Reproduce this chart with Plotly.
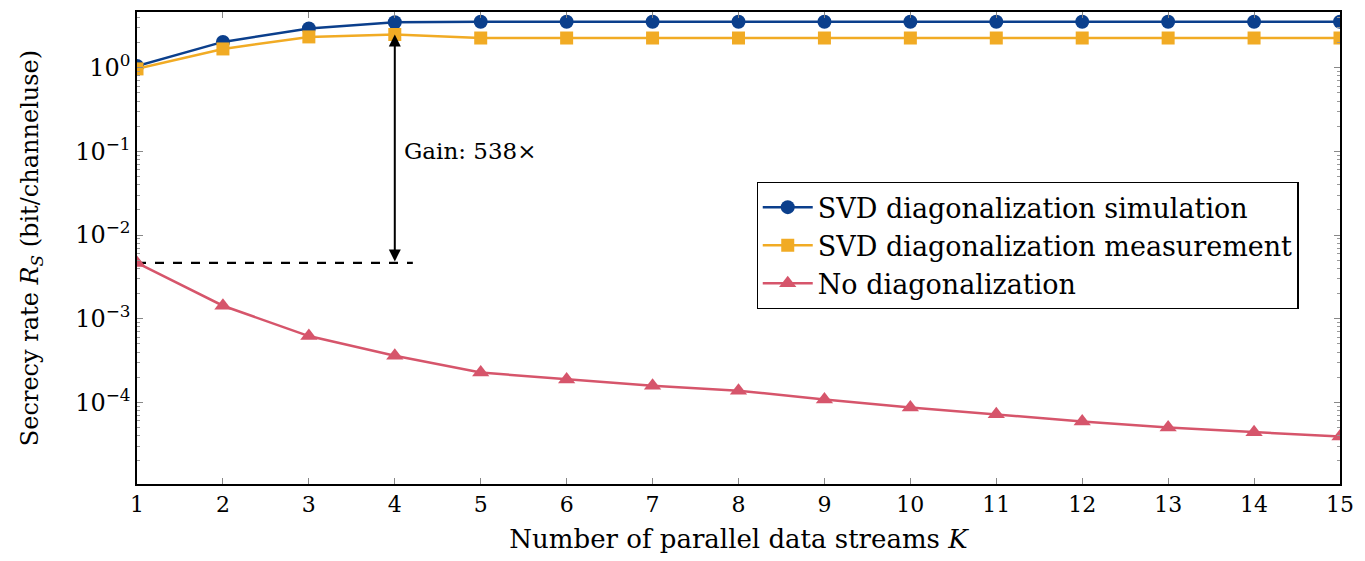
import plotly.graph_objects as go
import numpy as np

K = list(range(1, 16))
svd_sim = [1.05, 2.04, 2.95, 3.5, 3.55, 3.55, 3.55, 3.55, 3.55, 3.55, 3.55, 3.55, 3.55, 3.55, 3.55]
svd_meas = [0.97, 1.68, 2.34, 2.5, 2.27, 2.27, 2.27, 2.27, 2.27, 2.27, 2.27, 2.27, 2.27, 2.27, 2.27]
no_diag = [4.64e-3, 1.43e-3, 6.2e-4, 3.6e-4, 2.27e-4, 1.88e-4, 1.58e-4, 1.38e-4, 1.08e-4, 8.7e-5, 7.2e-5, 5.9e-5, 5.0e-5, 4.4e-5, 3.9e-5]
gain_x = 4
gain_text = "Gain: 538×"
dash_x = [1, 4.21]

BLUE = "#0b3f8c"
ORANGE = "#f1ab24"
RED = "#d6556b"
FONT = "DejaVu Serif"

fig = go.Figure()
fig.add_trace(go.Scatter(x=dash_x, y=[no_diag[0]] * 2, mode="lines",
                         line=dict(color="black", width=2.2, dash="dash"), showlegend=False))
fig.add_trace(go.Scatter(x=K, y=svd_sim, mode="lines+markers", name="SVD diagonalization simulation",
                         line=dict(color=BLUE, width=2.5), marker=dict(symbol="circle", size=14, color=BLUE)))
fig.add_trace(go.Scatter(x=K, y=svd_meas, mode="lines+markers", name="SVD diagonalization measurement",
                         line=dict(color=ORANGE, width=2.5), marker=dict(symbol="square", size=13, color=ORANGE)))
fig.add_trace(go.Scatter(x=K, y=no_diag, mode="lines+markers", name="No diagonalization",
                         line=dict(color=RED, width=2.5), marker=dict(symbol="triangle-up", size=15, color=RED)))

fig.add_annotation(x=gain_x, y=np.log10(svd_meas[gain_x - 1]), ax=gain_x, ay=np.log10(no_diag[0]),
                   xref="x", yref="y", axref="x", ayref="y", text="", showarrow=True,
                   arrowhead=2, arrowside="end+start", arrowsize=1.2, arrowwidth=2, arrowcolor="black",
                   standoff=0, startstandoff=0)
fig.add_annotation(x=gain_x + 0.08, y=-1.0, xref="x", yref="y", text=gain_text, showarrow=False,
                   xanchor="left", yanchor="middle", font=dict(family=FONT, size=23, color="black"))

tickv = [1e-4, 1e-3, 1e-2, 1e-1, 1]
tickt = ["10<sup>−4</sup>", "10<sup>−3</sup>", "10<sup>−2</sup>", "10<sup>−1</sup>", "10<sup>0</sup>"]
minorv = [m * 10.0 ** e for e in range(-5, 1) for m in range(2, 10)]

fig.update_layout(
    width=1365, height=561,
    margin=dict(l=129, r=33, t=2, b=85),
    paper_bgcolor="white", plot_bgcolor="white",
    font=dict(family=FONT, size=22, color="black"),
    legend=dict(x=0.515, y=0.64, xanchor="left", yanchor="top", bordercolor="black", borderwidth=1.2,
                bgcolor="white", font=dict(size=27, family=FONT), tracegroupgap=0, itemwidth=50),
)
fig.update_xaxes(range=[1, 15], tickvals=K, ticks="inside", ticklen=6, tickcolor="#888",
                 showline=True, linecolor="black", linewidth=1.5, mirror="ticks", showgrid=False, zeroline=False,
                 title=dict(text="Number of parallel data streams <i>K</i>", font=dict(size=26, family=FONT), standoff=14),
                 tickfont=dict(size=22, family=FONT))
fig.update_yaxes(type="log", range=[-4.976, 0.667], tickvals=tickv, ticktext=tickt, ticks="inside", ticklen=6,
                 tickcolor="#888", showline=True, linecolor="black", linewidth=1.5, mirror="ticks",
                 showgrid=False, zeroline=False,
                 minor=dict(tickmode="array", tickvals=minorv, ticks="inside", ticklen=3, tickcolor="#999", showgrid=False),
                 title=dict(text="Secrecy rate <i>R<sub>S</sub></i> (bit/channeluse)", font=dict(size=24, family=FONT), standoff=30),
                 tickfont=dict(size=24, family=FONT))

fig.write_html("out.html")
